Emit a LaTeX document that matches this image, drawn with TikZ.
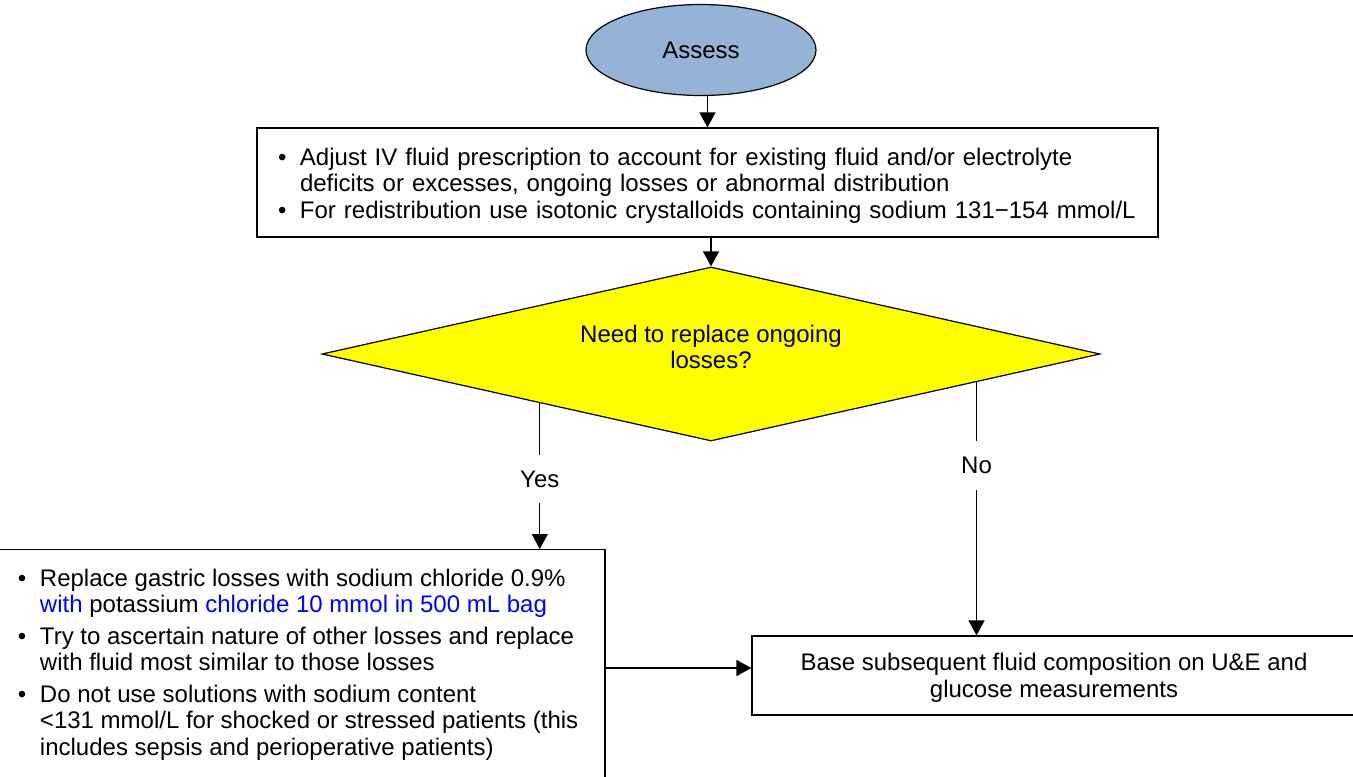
\documentclass[tikz,border=0pt]{standalone}
\usepackage{fontspec}
\setmainfont{Liberation Sans}
\usetikzlibrary{shapes.geometric,arrows.meta}
\definecolor{assessblue}{HTML}{95B3D7}
\definecolor{askyellow}{HTML}{FFFF00}
\newcommand{\bul}{\makebox[11pt][l]{\textbullet}}
\begin{document}
\begin{tikzpicture}[x=0.5pt,y=-0.5pt,font=\fontsize{12}{13.25}\selectfont,
    box/.style={draw,line width=0.6pt,inner sep=0pt},
    arr/.style={-{Triangle[length=7.5pt,width=8pt]},line width=0.6pt},
    lbl/.style={fill=white,inner xsep=2pt,inner ysep=8pt}]
    \useasboundingbox (0,0) rectangle (1353,776);
    \clip (0,0) rectangle (1353,776);
    \node[box,ellipse,fill=assessblue,minimum width=115pt,minimum height=45.5pt] (assess) at (701,50) {Assess};
    \node[box,minimum width=450.5pt,minimum height=54.5pt,text width=429.5pt,
          align=left,inner xsep=10.5pt] (adjust) at (707.5,182.5)
          {\raisebox{0pt}[\height][\dimexpr\depth-4pt\relax]{\begin{tabular}{@{}l@{}l@{}}
           \bul & Adjust IV fluid prescription to account for existing fluid and/or electrolyte\\
                & deficits or excesses, ongoing losses or abnormal distribution\\
           \bul & For redistribution use isotonic crystalloids containing sodium 131−154 mmol/L
           \end{tabular}}};
    \node[box,diamond,aspect=4.47,fill=askyellow,minimum width=389pt,minimum height=87pt]
          (replace) at (711,354)
          {\raisebox{0pt}[\dimexpr\height-4pt\relax][\depth]{\begin{tabular}{@{}c@{}}
           Need to replace ongoing\\losses?\end{tabular}}};
    \node[box,anchor=north,inner xsep=10.5pt,inner ysep=9pt] (losses) at (301,549)
          {\parbox[c][105pt][t]{283pt}{\begin{tabular}{@{}l@{}l@{}}
           \bul & Replace gastric losses with sodium chloride 0.9\%\\
                & \textcolor{blue}{with} potassium \textcolor{blue}{chloride 10 mmol in 500 mL bag}\\[2.5pt]
           \bul & Try to ascertain nature of other losses and replace\\
                & with fluid most similar to those losses\\[2.5pt]
           \bul & Do not use solutions with sodium content\\
                & <131 mmol/L for shocked or stressed patients (this\\
                & includes sepsis and perioperative patients)
           \end{tabular}}};
    \node[box,minimum width=302pt,minimum height=39.5pt] (base) at (1054,675.5)
          {\raisebox{0pt}[\height][\dimexpr\depth-3pt\relax]{\begin{tabular}{@{}c@{}}
           Base subsequent fluid composition on U\&E and\\glucose measurements\end{tabular}}};
    \coordinate (join) at ([yshift=3.75pt]base.west);
    % connectors
    \draw[arr] (assess.south -| adjust.north) -- (adjust.north);
    \draw[arr] (adjust.south -| replace.north) -- (replace.north);
    \draw[arr] (replace.196) -- node[lbl,pos=0.52] {Yes} (replace.196 |- losses.north);
    \draw[arr] (replace.-6) -- node[lbl,pos=0.33] {No} (replace.-6 |- base.north);
    \draw[arr] (losses.east |- join) -- (join);
\end{tikzpicture}
\end{document}
